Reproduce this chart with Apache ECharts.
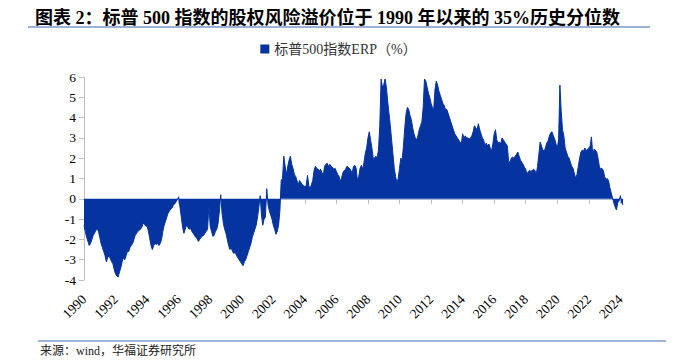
<!DOCTYPE html>
<html><head><meta charset="utf-8">
<script src="https://cdn.jsdelivr.net/npm/echarts@6/dist/echarts.min.js"></script>
<style>html,body{margin:0;padding:0;background:#fff}#c{width:677px;height:361px}</style>
</head><body><div id="c"></div><script>
const titleText = '图表 2：标普 500 指数的股权风险溢价位于 1990 年以来的 35%历史分位数';
const seriesName = '标普500指数ERP（%）';
const sourceText = '来源：wind，华福证券研究所';
const startYear = 1990;
const yTickValues = [-4, -3, -2, -1, 0, 1, 2, 3, 4, 5, 6];

// monthly ERP (%)
const erp1990s = [
  -1.3,-1.6,-1.9,-2.1,-2.3,-2.2,-2.0,-1.8,-1.7,-1.55,-1.5,-1.6,
  -1.9,-2.2,-2.4,-2.6,-2.8,-3.1,-2.9,-2.8,-2.95,-3.1,-3.2,-3.5,
  -3.7,-3.8,-3.85,-3.6,-3.4,-3.1,-2.9,-3.0,-2.8,-2.6,-2.6,-2.4,
  -2.3,-2.2,-2.0,-1.8,-1.7,-1.6,-1.55,-1.5,-1.4,-1.2,-1.25,-1.35,
  -1.35,-1.6,-1.95,-2.3,-2.5,-2.3,-2.2,-2.25,-2.2,-2.3,-2.2,-2.0,
  -1.6,-1.3,-1.1,-0.9,-0.7,-0.6,-0.5,-0.45,-0.3,-0.25,-0.15,-0.05,
  0.1,-0.4,-0.9,-1.4,-1.7,-1.5,-1.3,-1.4,-1.5,-1.45,-1.6,-1.7,
  -1.8,-1.9,-1.95,-2.1,-2.0,-1.9,-1.85,-1.8,-1.7,-1.6,-1.5,-0.3,
  -1.35,-1.6,-1.85,-1.8,-1.6,-1.5,-1.2,-0.6,0.2,-0.7,-1.2,-1.5,
  -1.7,-2.0,-2.3,-2.5,-2.4,-2.6,-2.7,-2.6,-2.8,-2.9,-3.0,-3.1
];
const erp2000s = [
  -3.2,-3.3,-3.1,-3.0,-2.8,-2.6,-2.4,-2.2,-1.9,-1.7,-1.5,-1.3,
  -0.9,-0.4,0.15,-0.8,-1.3,-1.0,-0.9,0.5,-0.3,-0.6,-0.8,-1.0,
  -1.3,-1.5,-1.75,-1.6,-1.3,-0.6,0.9,1.0,2.1,1.6,1.2,1.6,
  1.9,2.1,1.7,1.5,1.2,1.1,0.9,0.7,0.9,0.8,0.7,0.65,
  0.6,0.65,1.15,0.65,0.5,0.7,0.9,1.4,1.6,1.5,1.45,1.4,
  1.45,1.3,1.15,1.6,1.7,1.75,1.6,1.7,1.6,1.55,1.45,1.5,
  1.35,1.2,1.1,0.85,1.05,1.3,1.4,1.45,1.6,1.55,1.5,1.4,
  1.25,1.6,1.65,1.5,0.9,1.1,1.5,1.65,1.45,1.8,2.25,2.5,
  3.0,3.3,2.9,2.5,2.0,2.0,2.1,2.0,2.4,3.6,5.9,5.5,
  5.6,5.9,5.5,4.8,4.2,3.6,2.9,2.2,1.5,1.1,0.8,1.0
];
const erp2010s = [
  1.5,2.0,1.9,2.6,3.5,4.2,4.5,4.4,4.1,3.9,3.5,3.2,
  3.0,2.9,3.1,3.4,3.6,3.8,4.5,5.9,5.8,5.5,5.2,5.0,
  4.7,4.5,4.4,5.4,5.8,5.6,5.3,5.1,4.9,4.7,4.6,4.4,
  4.4,4.2,4.0,3.8,3.6,3.4,3.2,3.1,3.0,2.9,2.8,2.7,
  3.2,3.0,3.1,3.0,3.0,2.95,3.0,3.1,3.3,3.6,3.5,3.4,
  3.7,3.4,3.2,3.0,2.9,2.6,2.75,2.6,2.7,2.5,2.35,2.7,
  3.2,3.4,2.9,2.75,2.8,2.7,3.0,2.9,2.8,2.7,2.6,1.85,
  1.8,2.0,2.05,2.0,2.1,2.2,2.3,2.1,1.9,1.8,1.7,1.55,
  1.45,1.2,1.35,1.4,1.35,1.4,1.45,1.4,1.2,1.6,2.2,2.8,
  2.6,2.4,2.35,2.5,2.75,2.85,3.1,3.25,3.3,3.1,2.95,2.7
];
const erp2020s = [
  2.5,2.9,5.6,4.3,3.4,3.1,2.5,2.3,2.1,2.0,1.8,1.6,
  1.5,1.25,1.0,1.2,1.6,2.0,2.3,2.4,2.35,2.5,2.35,2.45,
  2.5,2.6,3.05,2.2,2.45,2.4,2.3,2.0,1.6,1.45,1.5,1.4,
  1.1,0.95,1.0,0.9,0.55,0.3,0.05,-0.2,-0.4,-0.55,-0.2,-0.1,
  0.15,-0.2,-0.3
];

const erp = erp1990s.concat(erp2000s, erp2010s, erp2020s);
const months = erp.map((v, i) => {
  const y = startYear + Math.floor(i / 12);
  const m = (i % 12) + 1;
  return y + '-' + (m < 10 ? '0' + m : m);
});
const everyTwoYears = (idx) => idx % 24 === 0;

const serif = "'Liberation Serif','Times New Roman','Noto Sans CJK SC',serif";
const blue = '#0533a0';

const chart = echarts.init(document.getElementById('c'), null, {renderer: 'svg'});
chart.setOption({
  animation: false,
  title: {
    text: titleText, left: 30, top: 4,
    textStyle: {fontSize: 18, fontWeight: 'bold', color: '#000', fontFamily: serif}
  },
  legend: {
    top: 37, left: 'center', icon: 'rect', itemWidth: 9, itemHeight: 9, itemGap: 10,
    textStyle: {fontSize: 14, color: '#333', fontFamily: serif},
    data: [seriesName]
  },
  grid: {left: 84, right: 54, top: 77, bottom: 81, containLabel: false},
  xAxis: [{
    type: 'category', data: months, boundaryGap: false,
    axisLine: {onZero: true, lineStyle: {color: '#a9b9d8', width: 1}},
    axisTick: {interval: everyTwoYears, length: 5, lineStyle: {color: '#a9b9d8'}},
    axisLabel: {show: false},
    splitLine: {show: false}
  }, {
    type: 'category', data: months, boundaryGap: false, position: 'bottom',
    axisLine: {show: false, onZero: false},
    axisTick: {show: false},
    splitLine: {show: false},
    axisLabel: {
      interval: everyTwoYears, rotate: 45, margin: 17, fontSize: 13.5,
      color: '#000', fontFamily: serif,
      formatter: (v) => v.slice(0, 4)
    }
  }],
  yAxis: {
    type: 'value', min: yTickValues[0], max: yTickValues[yTickValues.length - 1], interval: 1,
    axisLine: {show: true, lineStyle: {color: '#bfbfbf'}},
    axisTick: {show: true, length: 5, lineStyle: {color: '#bfbfbf'}},
    splitLine: {show: false},
    axisLabel: {fontSize: 13.5, color: '#000', fontFamily: serif, margin: 8}
  },
  series: [{
    name: seriesName, type: 'line', data: erp, symbol: 'none', xAxisIndex: 0,
    lineStyle: {width: 1, color: blue}, itemStyle: {color: blue},
    areaStyle: {color: blue, opacity: 1}
  }],
  graphic: [
    {type: 'line', shape: {x1: 28, y1: 27, x2: 650, y2: 27}, style: {stroke: '#7b97c6', lineWidth: 1.5}},
    {type: 'line', shape: {x1: 38, y1: 341, x2: 666, y2: 341}, style: {stroke: '#9fb4dc', lineWidth: 2}},
    {type: 'text', left: 40, top: 345, style: {text: sourceText, font: "12px 'Liberation Serif','Noto Sans CJK SC',serif", fill: '#222'}}
  ]
});
</script></body></html>
